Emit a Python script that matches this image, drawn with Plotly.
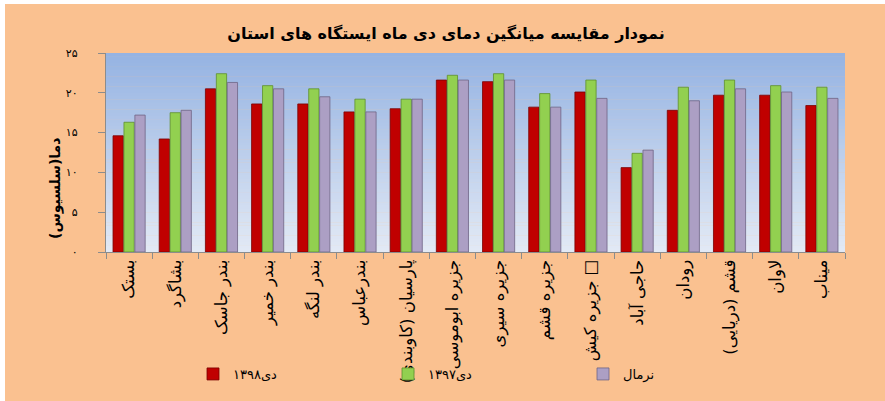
import plotly.graph_objects as go

categories = ["بستک", "بشاگرد", "بندر جاسک", "بندر خمیر", "بندر لنگه", "بندرعباس",
              "پارسیان (کاوبندی)", "جزیره ابوموسی", "جزیره سیری", "جزیره قشم",
              "جزیره کیش □", "حاجی آباد", "رودان", "قشم (دریایی)", "لاوان", "میناب"]
dey_1398 = [14.6, 14.2, 20.5, 18.6, 18.6, 17.6, 18.0, 21.6, 21.4, 18.2, 20.1, 10.6, 17.8, 19.7, 19.7, 18.4]
dey_1397 = [16.3, 17.5, 22.4, 20.9, 20.5, 19.2, 19.2, 22.2, 22.4, 19.9, 21.6, 12.4, 20.7, 21.6, 20.9, 20.7]
normal = [17.2, 17.8, 21.3, 20.5, 19.5, 17.6, 19.2, 21.6, 21.6, 18.2, 19.3, 12.8, 19.0, 20.5, 20.1, 19.3]
series_names = ["دی۱۳۹۸", "دی۱۳۹۷", "نرمال"]
y_tickvals = [0, 5, 10, 15, 20, 25]
y_ticktext = ["۰", "۵", "۱۰", "۱۵", "۲۰", "۲۵"]
title_text = "نمودار مقایسه میانگین دمای دی ماه ایستگاه های استان"
y_title = "دما(سلسیوس)"

FONT = "DejaVu Sans"
W, H = 885, 401
L, R, T, B = 106, 845, 53, 252
pw, ph = R - L, B - T

def px_to_paper_x(x):
    return (x - L) / pw

def px_to_paper_y(y):
    return (B - y) / ph

fig = go.Figure()
colors = ["#C00000", "#92D050", "#AC9FC4"]
lines = ["#7A0000", "#5E8F2C", "#6F6585"]
for name, vals, c, lc in zip(series_names, [dey_1398, dey_1397, normal], colors, lines):
    fig.add_trace(go.Bar(x=categories, y=vals, name=name,
                         marker=dict(color=c, line=dict(color=lc, width=0.8))))

shapes = []
# peach background with white top/left margin
shapes.append(dict(type="rect", xref="paper", yref="paper", layer="below",
                   x0=px_to_paper_x(5), x1=px_to_paper_x(W + 5),
                   y0=px_to_paper_y(H + 5), y1=px_to_paper_y(4),
                   fillcolor="#FAC190", line=dict(width=0)))
# plot area gradient
top = (0x95, 0xB3, 0xE2)
bot = (0xE2, 0xE9, 0xF5)
n = 60
for i in range(n):
    t = i / (n - 1)
    col = tuple(round(top[k] + (bot[k] - top[k]) * t) for k in range(3))
    y1 = 1 - i / n
    y0 = 1 - (i + 1) / n
    shapes.append(dict(type="rect", xref="paper", yref="paper", layer="below",
                       x0=0, x1=1, y0=y0 - 0.002, y1=y1,
                       fillcolor="rgb(%d,%d,%d)" % col, line=dict(width=0)))

fig.update_layout(
    width=W, height=H,
    margin=dict(l=L, r=W - R, t=T, b=H - B, autoexpand=False),
    paper_bgcolor="white",
    plot_bgcolor="rgba(0,0,0,0)",
    shapes=shapes,
    barmode="group", bargap=0.29, bargroupgap=0.06,
    font=dict(family=FONT, color="black"),
    title=dict(text="<b>" + title_text + "</b>", x=0.504, xref="container",
               xanchor="center", y=1 - 33 / H, yref="container", yanchor="middle",
               font=dict(size=16, family=FONT, color="black")),
    showlegend=True,
    legend=dict(orientation="h", x=px_to_paper_x(193), xanchor="left",
                y=px_to_paper_y(374), yanchor="middle", yref="paper",
                entrywidth=150, entrywidthmode="pixels",
                font=dict(size=13, family=FONT, color="black"),
                bgcolor="rgba(0,0,0,0)", traceorder="normal"),
    annotations=[dict(text="<b>" + y_title + "</b>", textangle=-90,
                      xref="paper", yref="paper",
                      x=px_to_paper_x(55), y=px_to_paper_y(188),
                      xanchor="center", yanchor="middle", showarrow=False,
                      font=dict(size=14, family=FONT, color="black"))],
)
fig.update_xaxes(showline=True, linecolor="#8C8C8C", linewidth=1.2,
                 ticks="outside", tickson="boundaries", ticklen=6, tickcolor="#8C8C8C",
                 tickangle=-90, tickfont=dict(size=16.5, family=FONT, color="black"),
                 showgrid=False, fixedrange=True, automargin=False)
fig.update_yaxes(range=[0, 25], tickvals=y_tickvals, ticktext=y_ticktext,
                 showline=True, linecolor="#8C8C8C", linewidth=1.2,
                 ticks="outside", ticklen=7, tickcolor="#8C8C8C",
                 ticklabelstandoff=18,
                 tickfont=dict(size=11, family=FONT, color="black"),
                 showgrid=False, zeroline=False, automargin=False, fixedrange=True)

fig.write_html("out.html", config={"displayModeBar": False},
               post_script="document.body.style.margin='0px';")
